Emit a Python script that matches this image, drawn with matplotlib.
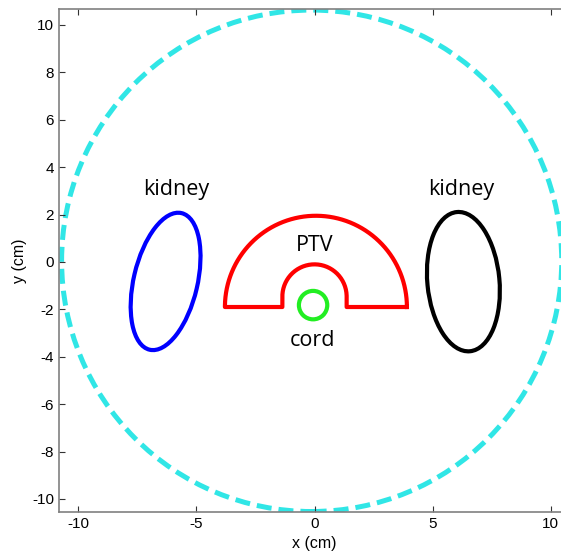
import numpy as np
import matplotlib.pyplot as plt
from matplotlib.patches import Ellipse, Circle

plt.rcParams['axes.unicode_minus'] = False

# Structure geometry (cm)
body_center = (-0.12, 0.05)
body_radius = 10.58

kidney_centers = [(-6.3, -0.82), (6.3, -0.83)]
kidney_widths = [2.7, 3.05]
kidney_heights = [5.92, 5.9]
kidney_angles = [-13.2, 5.4]
kidney_colors = ['#0000ff', '#000000']

ptv_base_y = -1.9
ptv_outer_center_x = 0.06
ptv_outer_radius = 3.85
ptv_inner_radius = 1.36
ptv_inner_top = -0.1

cord_center = (-0.06, -1.82)
cord_radius = 0.6

label_text = ['kidney', 'kidney', 'PTV', 'cord']
label_x = [-5.85, 6.2, 0.0, -0.08]
label_y = [3.05, 3.05, 0.7, -3.3]

xlim = (-10.81, 10.81)
ylim = (-10.55, 10.675)
xticks = [-10, -5, 0, 5, 10]
yticks = [-10, -8, -6, -4, -2, 0, 2, 4, 6, 8, 10]

# PTV outline: half disc with a notch cut out around the cord
inner_cy = ptv_inner_top - ptv_inner_radius
t_out = np.linspace(0, np.pi, 200)
t_in = np.linspace(np.pi, 0, 100)
px = np.concatenate([
    ptv_outer_center_x + ptv_outer_radius * np.cos(t_out),
    [-ptv_inner_radius],
    ptv_inner_radius * np.cos(t_in),
    [ptv_inner_radius, ptv_outer_center_x + ptv_outer_radius],
])
py = np.concatenate([
    ptv_base_y + ptv_outer_radius * np.sin(t_out),
    [ptv_base_y],
    inner_cy + ptv_inner_radius * np.sin(t_in),
    [ptv_base_y, ptv_base_y],
])

fig = plt.figure(figsize=(5.61, 5.56), dpi=100)
ax = fig.add_axes([59 / 561, 44 / 556, 511 / 561, 503 / 556])

ax.add_patch(Circle(body_center, body_radius, fill=False, edgecolor='#30e6e6',
                    linewidth=3.6, linestyle=(0, (3.0, 1.4))))

for c, w, h, a, col in zip(kidney_centers, kidney_widths, kidney_heights,
                           kidney_angles, kidney_colors):
    ax.add_patch(Ellipse(c, w, h, angle=a, fill=False, edgecolor=col, linewidth=3))

ax.plot(px, py, color='#ff0000', linewidth=3, solid_joinstyle='round')
ax.add_patch(Circle(cord_center, cord_radius, fill=False, edgecolor='#22ee22', linewidth=3))

for s, x, y in zip(label_text, label_x, label_y):
    ax.text(x, y, s, ha='center', va='center', fontsize=15.5, family='Open Sans')

ax.set_xlim(*xlim)
ax.set_ylim(*ylim)
ax.set_xticks(xticks)
ax.set_yticks(yticks)
ax.tick_params(direction='in', length=4, top=True, right=True, color='#333333',
               labelsize=11)
for lab in ax.get_xticklabels() + ax.get_yticklabels():
    lab.set_family('Liberation Sans')
for sp in ax.spines.values():
    sp.set_color('#808080')
    sp.set_linewidth(1.2)
ax.set_xlabel('x (cm)', fontsize=11.5, family='Liberation Sans', labelpad=4)
ax.set_ylabel('y (cm)', fontsize=11.5, family='Liberation Sans', labelpad=4)

fig.savefig('out.png', dpi=100)
